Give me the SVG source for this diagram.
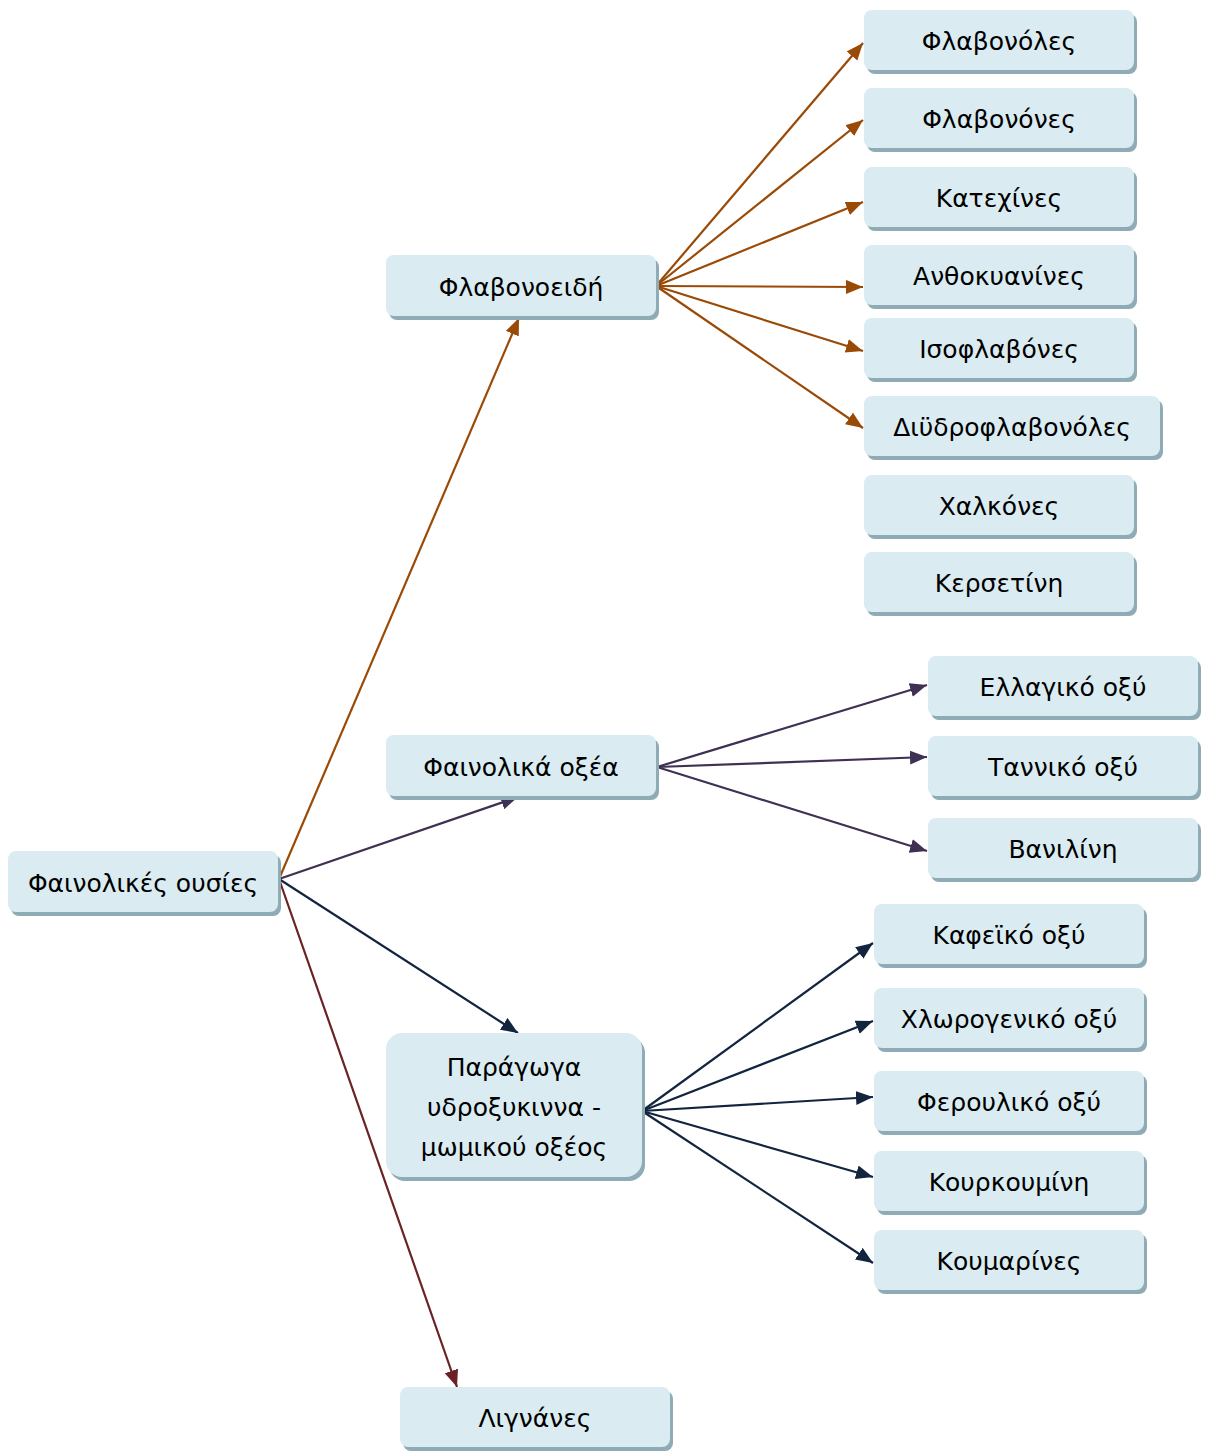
<svg xmlns="http://www.w3.org/2000/svg" width="1206" height="1452" viewBox="0 0 1206 1452">
<defs>
<style>
.sh{fill:#8fabb5}
.bx{fill:#daecf2}
.t{font-family:"DejaVu Sans",Verdana,sans-serif;font-size:25px;fill:#000;text-anchor:middle}
.c{fill:none;stroke-width:2.2}
.br{stroke:#9a4a07}
.pu{stroke:#3f3153}
.nv{stroke:#13243f}
.rd{stroke:#6b2225}
</style>
<marker id="mbr" markerUnits="userSpaceOnUse" markerWidth="20" markerHeight="16" refX="17" refY="7" orient="auto"><path d="M0,0 L17,7 L0,14 z" fill="#9a4a07"/></marker>
<marker id="mpu" markerUnits="userSpaceOnUse" markerWidth="20" markerHeight="16" refX="17" refY="7" orient="auto"><path d="M0,0 L17,7 L0,14 z" fill="#3f3153"/></marker>
<marker id="mnv" markerUnits="userSpaceOnUse" markerWidth="20" markerHeight="16" refX="17" refY="7" orient="auto"><path d="M0,0 L17,7 L0,14 z" fill="#13243f"/></marker>
<marker id="mrd" markerUnits="userSpaceOnUse" markerWidth="20" markerHeight="16" refX="17" refY="7" orient="auto"><path d="M0,0 L17,7 L0,14 z" fill="#6b2225"/></marker>
</defs>
<rect width="1206" height="1452" fill="#fff"/>
<g id="connectors">
<line class="c br" x1="279" y1="879" x2="519" y2="318" marker-end="url(#mbr)"/>
<line class="c pu" x1="279" y1="879" x2="518" y2="797" marker-end="url(#mpu)"/>
<line class="c nv" x1="279" y1="879" x2="518" y2="1033" marker-end="url(#mnv)"/>
<line class="c rd" x1="279" y1="879" x2="457" y2="1387" marker-end="url(#mrd)"/>
<line class="c br" x1="656" y1="286" x2="863" y2="43" marker-end="url(#mbr)"/>
<line class="c br" x1="656" y1="286" x2="863" y2="120" marker-end="url(#mbr)"/>
<line class="c br" x1="656" y1="286" x2="863" y2="202" marker-end="url(#mbr)"/>
<line class="c br" x1="656" y1="286" x2="863" y2="287" marker-end="url(#mbr)"/>
<line class="c br" x1="656" y1="286" x2="863" y2="351" marker-end="url(#mbr)"/>
<line class="c br" x1="656" y1="286" x2="863" y2="428" marker-end="url(#mbr)"/>
<line class="c pu" x1="657" y1="767" x2="927" y2="685" marker-end="url(#mpu)"/>
<line class="c pu" x1="657" y1="767" x2="927" y2="757" marker-end="url(#mpu)"/>
<line class="c pu" x1="657" y1="767" x2="927" y2="851" marker-end="url(#mpu)"/>
<line class="c nv" x1="642" y1="1111" x2="873" y2="943" marker-end="url(#mnv)"/>
<line class="c nv" x1="642" y1="1111" x2="873" y2="1021" marker-end="url(#mnv)"/>
<line class="c nv" x1="642" y1="1111" x2="873" y2="1097" marker-end="url(#mnv)"/>
<line class="c nv" x1="642" y1="1111" x2="873" y2="1177" marker-end="url(#mnv)"/>
<line class="c nv" x1="642" y1="1111" x2="873" y2="1263" marker-end="url(#mnv)"/>
</g>
<g id="n-root"><rect class="sh" x="11" y="855" width="270" height="61" rx="8"/><rect class="bx" x="8" y="851" width="270" height="61" rx="8"/><text class="t" x="143" y="892">Φαινολικές ουσίες</text></g>
<g id="n-flavonoeidi"><rect class="sh" x="389" y="259" width="270" height="61" rx="8"/><rect class="bx" x="386" y="255" width="270" height="61" rx="8"/><text class="t" x="521" y="296">Φλαβονοειδή</text></g>
<g id="n-fainolika"><rect class="sh" x="389" y="739" width="270" height="61" rx="8"/><rect class="bx" x="386" y="735" width="270" height="61" rx="8"/><text class="t" x="521" y="776">Φαινολικά οξέα</text></g>
<g id="n-paragoga"><rect class="sh" x="389" y="1037" width="256" height="144" rx="16"/><rect class="bx" x="386" y="1033" width="256" height="144" rx="16"/><text class="t" x="514" y="1076">Παράγωγα</text><text class="t" x="514" y="1116">υδροξυκιννα -</text><text class="t" x="514" y="1156">μωμικού οξέος</text></g>
<g id="n-lignanes"><rect class="sh" x="403" y="1391" width="270" height="60" rx="8"/><rect class="bx" x="400" y="1387" width="270" height="60" rx="8"/><text class="t" x="535" y="1427">Λιγνάνες</text></g>
<g id="n-flavonoles"><rect class="sh" x="867" y="14" width="270" height="60" rx="8"/><rect class="bx" x="864" y="10" width="270" height="60" rx="8"/><text class="t" x="999" y="50">Φλαβονόλες</text></g>
<g id="n-flavonones"><rect class="sh" x="867" y="92" width="270" height="60" rx="8"/><rect class="bx" x="864" y="88" width="270" height="60" rx="8"/><text class="t" x="999" y="128">Φλαβονόνες</text></g>
<g id="n-katexines"><rect class="sh" x="867" y="171" width="270" height="60" rx="8"/><rect class="bx" x="864" y="167" width="270" height="60" rx="8"/><text class="t" x="999" y="207">Κατεχίνες</text></g>
<g id="n-anthokyanines"><rect class="sh" x="867" y="249" width="270" height="60" rx="8"/><rect class="bx" x="864" y="245" width="270" height="60" rx="8"/><text class="t" x="999" y="285">Ανθοκυανίνες</text></g>
<g id="n-isoflavones"><rect class="sh" x="867" y="322" width="270" height="60" rx="8"/><rect class="bx" x="864" y="318" width="270" height="60" rx="8"/><text class="t" x="999" y="358">Ισοφλαβόνες</text></g>
<g id="n-diydro"><rect class="sh" x="867" y="400" width="296" height="60" rx="8"/><rect class="bx" x="864" y="396" width="296" height="60" rx="8"/><text class="t" x="1012" y="436">Διϋδροφλαβονόλες</text></g>
<g id="n-xalkones"><rect class="sh" x="867" y="479" width="270" height="60" rx="8"/><rect class="bx" x="864" y="475" width="270" height="60" rx="8"/><text class="t" x="999" y="515">Χαλκόνες</text></g>
<g id="n-kersetini"><rect class="sh" x="867" y="556" width="270" height="60" rx="8"/><rect class="bx" x="864" y="552" width="270" height="60" rx="8"/><text class="t" x="999" y="592">Κερσετίνη</text></g>
<g id="n-ellagiko"><rect class="sh" x="931" y="660" width="270" height="60" rx="8"/><rect class="bx" x="928" y="656" width="270" height="60" rx="8"/><text class="t" x="1063" y="696">Ελλαγικό οξύ</text></g>
<g id="n-tanniko"><rect class="sh" x="931" y="740" width="270" height="60" rx="8"/><rect class="bx" x="928" y="736" width="270" height="60" rx="8"/><text class="t" x="1063" y="776">Ταννικό οξύ</text></g>
<g id="n-vanilini"><rect class="sh" x="931" y="822" width="270" height="60" rx="8"/><rect class="bx" x="928" y="818" width="270" height="60" rx="8"/><text class="t" x="1063" y="858">Βανιλίνη</text></g>
<g id="n-kafeiko"><rect class="sh" x="877" y="908" width="270" height="60" rx="8"/><rect class="bx" x="874" y="904" width="270" height="60" rx="8"/><text class="t" x="1009" y="944">Καφεϊκό οξύ</text></g>
<g id="n-xlorogeniko"><rect class="sh" x="877" y="992" width="270" height="60" rx="8"/><rect class="bx" x="874" y="988" width="270" height="60" rx="8"/><text class="t" x="1009" y="1028">Χλωρογενικό οξύ</text></g>
<g id="n-ferouliko"><rect class="sh" x="877" y="1075" width="270" height="60" rx="8"/><rect class="bx" x="874" y="1071" width="270" height="60" rx="8"/><text class="t" x="1009" y="1111">Φερουλικό οξύ</text></g>
<g id="n-kourkoumini"><rect class="sh" x="877" y="1155" width="270" height="60" rx="8"/><rect class="bx" x="874" y="1151" width="270" height="60" rx="8"/><text class="t" x="1009" y="1191">Κουρκουμίνη</text></g>
<g id="n-koumarines"><rect class="sh" x="877" y="1234" width="270" height="60" rx="8"/><rect class="bx" x="874" y="1230" width="270" height="60" rx="8"/><text class="t" x="1009" y="1270">Κουμαρίνες</text></g>
</svg>
